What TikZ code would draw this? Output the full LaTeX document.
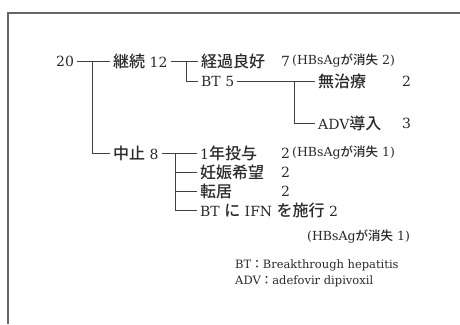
\documentclass[tikz,border=0pt]{standalone}
\usepackage{fontspec}
\setmainfont{DejaVu Serif}
\newfontfamily\jp{Noto Sans CJK JP}[UprightFont={* Medium}]
\newcommand{\J}[1]{{\jp\fontsize{16}{16}\selectfont #1}}
\definecolor{ink}{HTML}{2A2A2A}
\definecolor{rule}{HTML}{404040}
\definecolor{framec}{HTML}{666666}
\begin{document}
\begin{tikzpicture}[x=1pt,y=-1pt,
  lbl/.style={anchor=west,inner xsep=3pt,inner ysep=0pt,text=ink,font=\fontsize{14}{14}\selectfont},
  cnt/.style={anchor=west,inner xsep=0pt,inner ysep=0pt,text=ink,font=\fontsize{14}{14}\selectfont},
  small/.style={anchor=west,inner sep=0pt,text=ink,font=\fontsize{12.5}{12.5}\selectfont},
  foot/.style={anchor=west,inner sep=0pt,text=ink,font=\fontsize{11.5}{11.5}\selectfont},
  ln/.style={draw=rule,line width=1pt},
  frameline/.style={draw=framec,line width=1.3pt}]
\useasboundingbox (0,0) rectangle (460,324);
\fill[white] (0,0) rectangle (460,324);
\draw[frameline] (8,324) -- (8,13) -- (460,13);

% texts
\node[lbl] (n20) at (53,61) {20};
\node[lbl] (keizoku) at (110,61) {\J{継続} 12};
\node[lbl] (keika) at (198,61) {\J{経過良好}};
\node[cnt] (c7) at (281,61) {7};
\node[small] (h2) at (292,61) {(HBsAg{\jp が消失} 2)};
\node[lbl] (bt5) at (198,81) {BT 5};
\node[lbl] (mu) at (315,81) {\J{無治療}};
\node[cnt] (c2a) at (402,81) {2};
\node[lbl] (adv) at (315,123) {ADV\J{導入}};
\node[cnt] (c3) at (402,123) {3};
\node[lbl] (chushi) at (110,153) {\J{中止} 8};
\node[lbl] (ichinen) at (197,153) {1\J{年投与}};
\node[cnt] (c2b) at (281,153) {2};
\node[small] (h1) at (292,153) {(HBsAg{\jp が消失} 1)};
\node[lbl] (ninshin) at (197,172) {\J{妊娠希望}};
\node[cnt] (c2d) at (281,172) {2};
\node[lbl] (tenkyo) at (197,191) {\J{転居}};
\node[cnt] (c2c) at (281,191) {2};
\node[lbl] (btifn) at (197,210) {BT \J{に} IFN \J{を施行} 2};
\node[small] (h1b) at (307,237) {(HBsAg{\jp が消失} 1)};
\node[foot] (fbt) at (235,265) {BT{\jp ：}Breakthrough hepatitis};
\node[foot] (fadv) at (235,281) {ADV{\jp ：}adefovir dipivoxil};

% connectors
\coordinate (b1) at (92,61);
\coordinate (b2) at (186,61);
\coordinate (b3) at (294,81);
\coordinate (b4) at (175,153);
\draw[ln] (n20.east) -- (keizoku.west);
\draw[ln] (b1) |- (chushi.west);
\draw[ln] (keizoku.east) -- (keika.west);
\draw[ln] (b2) |- (bt5.west);
\draw[ln] (bt5.east) -- (mu.west);
\draw[ln] (b3) |- (adv.west);
\draw[ln] (chushi.east) -- (ichinen.west);
\draw[ln] (b4) |- (ninshin.west);
\draw[ln] (b4) |- (tenkyo.west);
\draw[ln] (b4) |- (btifn.west);
\end{tikzpicture}
\end{document}
